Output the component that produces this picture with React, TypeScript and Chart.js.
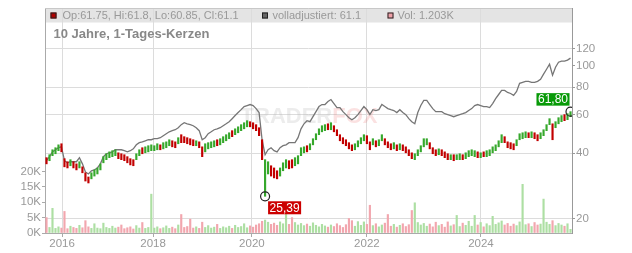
import React, { useEffect, useRef } from 'react';
import { Chart, registerables } from 'chart.js';
Chart.register(...registerables);

const FONT = '"Liberation Sans", Arial, Helvetica, sans-serif';

// Year tick positions (sample index) and labels
const yearPos = [5.2, 35.6, 68.6, 107.0, 145.1];
const yearLabels = ['2016', '2018', '2020', '2022', '2024'];
const priceTicks = [20, 40, 60, 80, 100, 120];
const volTicks = [0, 5, 10, 15, 20];

// Candle highs / lows (price)
const hi = [
  38.1, 39.3, 41.4, 42.3, 43.6, 44.1, 37.7, 36.5, 37.3, 36.5,
  35.7, 36.5, 34.6, 32.5, 31.1, 32.5, 33.5, 34.2, 35.7, 38.5,
  39.7, 40.5, 41.0, 41.4, 40.1, 39.7, 39.3, 38.5, 37.7, 37.3,
  39.7, 41.4, 42.3, 42.7, 43.2, 43.6, 43.2, 44.1, 43.6, 44.6,
  45.0, 46.0, 45.5, 45.0, 47.0, 48.5, 47.5, 47.0, 46.5, 46.0,
  45.5, 45.0, 42.7, 44.1, 44.6, 45.0, 45.5, 46.0, 46.5, 47.5,
  48.5, 49.5, 50.6, 51.6, 52.7, 53.9, 55.0, 56.2, 55.6, 55.0,
  53.9, 52.2, 46.0, 37.3, 36.5, 35.0, 34.2, 33.2, 34.2, 36.1,
  37.3, 36.9, 37.3, 38.1, 38.9, 42.3, 42.7, 43.2, 44.1, 46.5,
  49.0, 51.6, 53.3, 53.9, 54.4, 55.0, 53.3, 51.1, 48.5, 47.0,
  46.0, 44.6, 43.6, 44.1, 45.5, 47.0, 48.5, 48.0, 45.0, 46.5,
  45.5, 46.0, 48.5, 46.5, 45.0, 44.1, 44.6, 43.6, 44.1, 43.6,
  42.7, 41.4, 40.1, 39.7, 41.4, 43.2, 46.5, 46.5, 44.6, 42.3,
  41.4, 41.8, 41.4, 40.5, 39.7, 39.3, 39.3, 39.3, 39.7, 39.3,
  40.1, 41.0, 41.4, 41.0, 40.5, 40.1, 40.5, 41.0, 41.4, 42.7,
  43.6, 45.5, 48.5, 47.5, 45.0, 44.6, 44.1, 46.0, 49.0, 49.5,
  50.0, 49.5, 50.0, 49.5, 48.5, 49.5, 51.1, 53.9, 57.4, 54.4,
  55.6, 58.0, 59.3, 59.9, 60.5, 61.8,
];
const lo = [
  35.7, 36.9, 38.9, 39.7, 41.0, 40.5, 34.6, 34.2, 35.0, 34.2,
  33.5, 34.2, 32.5, 29.8, 29.2, 30.5, 31.4, 32.1, 33.5, 36.1,
  37.3, 38.1, 38.5, 38.9, 37.7, 37.3, 36.9, 36.1, 35.3, 35.0,
  37.3, 38.9, 39.7, 40.1, 40.5, 41.0, 41.0, 41.4, 41.4, 41.8,
  42.3, 43.2, 42.7, 42.3, 44.1, 44.6, 44.6, 44.1, 43.6, 43.2,
  43.2, 42.3, 38.5, 40.5, 41.8, 42.3, 42.7, 43.2, 43.6, 44.6,
  45.5, 46.5, 47.5, 48.5, 49.5, 50.6, 51.6, 52.7, 52.7, 51.6,
  50.6, 48.0, 37.3, 25.39, 32.1, 31.4, 30.8, 30.5, 31.4, 33.2,
  34.2, 33.9, 34.2, 35.0, 35.7, 38.9, 40.1, 40.5, 41.4, 43.6,
  46.0, 48.5, 50.0, 50.6, 51.1, 51.1, 50.0, 48.0, 45.5, 44.1,
  43.2, 41.8, 41.0, 41.4, 42.7, 44.1, 45.5, 44.1, 41.4, 43.6,
  42.7, 43.2, 45.5, 43.6, 42.3, 41.4, 41.8, 41.0, 41.4, 41.0,
  40.1, 38.9, 37.7, 37.3, 38.9, 40.5, 42.7, 43.6, 41.8, 39.7,
  38.9, 39.3, 38.9, 38.1, 37.3, 37.3, 36.9, 37.3, 37.3, 37.3,
  37.7, 38.5, 38.9, 38.5, 38.1, 38.1, 38.5, 38.5, 38.9, 40.1,
  41.0, 42.7, 44.6, 44.6, 42.3, 41.8, 41.4, 43.2, 46.0, 46.5,
  47.0, 47.0, 47.0, 46.5, 45.5, 46.5, 48.0, 50.6, 53.9, 46.0,
  52.2, 54.4, 55.6, 56.2, 56.8, 58.6,
];
// u = rising candle (green), d = falling candle (red)
const dir =
  'duuuudddud' + 'duddduuuuu' + 'uuuudddddd' + 'uuduuuuudu' + 'uudduddddd' +
  'udduuuuduu' + 'uuduuuuudd' + 'ddduuddduu' + 'udduuuuduu' + 'uuuududddd' +
  'ddduuuuddu' + 'duudddudud' + 'ddduuuuudd' + 'duddduduud' + 'uuuududuuu' +
  'uuudddduuu' + 'ududduuuud' + 'uuuduu';

// Fully adjusted (total return) line
const adj = [
  36.9, 38.5, 40.5, 41.4, 42.3, 42.7, 36.9, 36.1, 36.5, 36.5,
  36.5, 38.1, 35.7, 32.8, 32.1, 33.2, 33.5, 34.2, 35.7, 38.5,
  39.7, 40.1, 40.5, 41.4, 41.4, 41.4, 41.0, 40.5, 41.0, 41.8,
  43.6, 44.6, 45.0, 45.5, 46.0, 46.0, 46.5, 46.5, 47.0, 48.0,
  49.0, 50.0, 50.6, 51.1, 52.2, 53.9, 55.0, 54.4, 53.9, 53.3,
  52.2, 50.6, 46.0, 47.0, 49.0, 50.0, 51.1, 51.6, 52.2, 53.3,
  54.4, 55.6, 57.4, 59.3, 61.2, 63.1, 65.2, 65.9, 66.6, 65.9,
  63.8, 61.2, 46.0, 39.3, 41.4, 42.3, 41.0, 40.5, 42.3, 43.2,
  43.6, 44.6, 44.6, 44.6, 47.0, 51.6, 54.4, 56.2, 55.6, 58.6,
  61.8, 65.2, 66.6, 66.6, 68.7, 70.2, 67.3, 64.5, 64.5, 61.8,
  59.9, 58.0, 56.8, 58.0, 59.9, 62.5, 65.2, 63.1, 59.9, 63.1,
  62.5, 63.1, 66.6, 65.2, 63.8, 63.1, 62.5, 61.2, 63.1, 61.2,
  59.9, 57.4, 55.6, 54.4, 61.2, 65.9, 69.5, 69.5, 66.6, 63.8,
  61.8, 61.8, 61.8, 60.5, 59.9, 59.3, 58.6, 59.3, 59.9, 60.5,
  61.2, 62.5, 63.8, 65.9, 66.6, 65.9, 65.2, 65.2, 64.5, 67.3,
  70.9, 74.0, 77.3, 77.3, 75.6, 74.8, 73.3, 76.4, 83.2, 84.1,
  85.0, 85.0, 84.1, 84.1, 85.0, 86.9, 91.6, 96.5, 101.7, 90.6,
  98.6, 103.9, 105.1, 105.1, 106.2, 108.5,
];

// Volume in thousands
const vol = [
  5.0, 1.8, 8.0, 1.5, 2.0, 1.6, 7.0, 1.4, 2.2, 1.8,
  1.5, 2.5, 1.7, 4.0, 2.0, 1.5, 3.0, 1.6, 1.4, 3.2,
  1.8, 1.5, 2.2, 1.6, 1.9, 2.6, 1.4, 1.7, 2.0, 1.3,
  2.4, 1.6, 3.4, 1.5, 1.8, 12.6, 1.6, 2.0, 1.4, 1.7,
  2.3, 1.5, 1.9, 1.4, 2.6, 6.0, 1.8, 2.1, 4.5, 1.6,
  2.0, 1.5, 3.5, 1.8, 2.4, 1.6, 1.9, 2.8, 1.5, 2.0,
  1.7, 2.2, 1.5, 2.5, 1.8, 2.1, 3.0, 1.7, 2.3, 1.9,
  2.6, 3.0, 3.8, 4.2, 3.5, 2.8, 3.2, 2.5, 3.6, 3.0,
  6.4, 2.8, 5.0, 3.4, 2.6, 3.1, 2.4, 2.9, 2.2, 3.3,
  2.5, 2.0, 2.8, 2.3, 1.9, 2.6, 2.1, 3.0, 2.4, 1.8,
  2.7, 4.7, 4.0, 2.2, 3.7, 2.5, 3.6, 2.8, 9.0, 2.4,
  3.0, 2.0, 2.6, 3.2, 6.0, 2.2, 2.8, 1.9, 2.5, 3.0,
  2.1, 2.7, 7.3, 9.8, 3.4, 2.6, 3.1, 2.2, 2.9, 2.0,
  3.5, 2.4, 2.8, 1.9, 3.6, 2.3, 2.7, 5.7, 2.1, 3.2,
  2.5, 3.8, 2.2, 5.7, 2.6, 3.4, 2.0, 3.0, 2.4, 5.4,
  2.8, 3.3, 3.9, 2.6, 3.1, 2.2, 2.9, 2.4, 3.6, 15.8,
  2.7, 3.0, 2.1, 3.4, 2.6, 2.9, 11.0, 3.5, 2.8, 4.0,
  2.4, 3.1, 2.6, 2.2, 3.0, 1.2,
];

const lowMark = { i: 73, v: 25.39, label: '25,39' };
const lastMark = { i: 175, v: 61.8, label: '61,80' };
const legendOHLC = 'Op:61.75, Hi:61.8, Lo:60.85, Cl:61.1';
const legendAdj = 'volladjustiert: 61.1';
const legendVol = 'Vol: 1.203K';
const titleText = '10 Jahre, 1-Tages-Kerzen';

const RED = '#c20000';
const GREEN = '#36a82c';
const VOL_RED = '#f2a6ae';
const VOL_GREEN = '#addfa3';

const overlayPlugin = {
  id: 'overlay',
  beforeDraw(chart: any) {
    const { ctx, chartArea: a } = chart;
    ctx.save();
    ctx.fillStyle = '#e4e4e4';
    ctx.fillRect(a.left, a.top, a.right - a.left, 14.5);
    ctx.restore();
  },
  beforeDatasetsDraw(chart: any) {
    const { ctx } = chart;
    ctx.save();
    ctx.font = 'bold 22px ' + FONT;
    ctx.textBaseline = 'middle';
    const w1 = ctx.measureText('TRADER').width;
    const w2 = ctx.measureText('FOX').width;
    const x0 = 309 - (w1 + w2) / 2;
    ctx.fillStyle = 'rgba(185,185,185,0.28)';
    ctx.fillText('TRADER', x0, 117);
    ctx.fillStyle = 'rgba(235,120,120,0.22)';
    ctx.fillText('FOX', x0 + w1, 117);
    ctx.restore();
  },
  afterDraw(chart: any) {
    const { ctx, chartArea: a } = chart;
    ctx.save();
    // top frame line
    ctx.strokeStyle = '#c8c8c8';
    ctx.lineWidth = 1;
    ctx.beginPath();
    ctx.moveTo(a.left, a.top + 0.5);
    ctx.lineTo(a.right, a.top + 0.5);
    ctx.stroke();

    // legend row
    const sq = (x: number, color: string) => {
      ctx.fillStyle = color;
      ctx.fillRect(x, 12.5, 6, 6);
      ctx.strokeStyle = '#222';
      ctx.lineWidth = 1;
      ctx.strokeRect(x + 0.5, 13, 5, 5);
    };
    ctx.font = '11px ' + FONT;
    ctx.textBaseline = 'middle';
    sq(50.5, '#b00000');
    ctx.fillStyle = '#999';
    ctx.fillText(legendOHLC, 62.5, 16);
    sq(262, '#666');
    ctx.fillStyle = '#999';
    ctx.fillText(legendAdj, 272.5, 16);
    sq(387.5, '#f0a0a8');
    ctx.fillStyle = '#999';
    ctx.fillText(legendVol, 397.5, 16);

    // title
    ctx.font = 'bold 13px ' + FONT;
    ctx.fillStyle = '#888';
    ctx.fillText(titleText, 53.5, 34);

    // value labels
    const xs = chart.scales.x;
    const ys = chart.scales.yP;
    ctx.font = '12px ' + FONT;
    ctx.textAlign = 'center';
    {
      const px = xs.getPixelForValue(lowMark.i);
      const py = ys.getPixelForValue(lowMark.v);
      const w = ctx.measureText(lowMark.label).width + 3;
      ctx.fillStyle = '#cc0000';
      ctx.fillRect(px + 3, py + 5, w, 13);
      ctx.fillStyle = '#fff';
      ctx.fillText(lowMark.label, px + 3 + w / 2, py + 12);
    }
    {
      const px = xs.getPixelForValue(lastMark.i);
      const py = ys.getPixelForValue(lastMark.v);
      const w = ctx.measureText(lastMark.label).width + 3;
      ctx.fillStyle = '#089a08';
      ctx.fillRect(px - 1 - w, py - 18.5, w, 12.5);
      ctx.fillStyle = '#fff';
      ctx.fillText(lastMark.label, px - 1 - w / 2, py - 12);
    }
    ctx.restore();
  },
};

export default function App() {
  const ref = useRef<HTMLCanvasElement | null>(null);

  useEffect(() => {
    if (!ref.current) return;
    Chart.defaults.font.family = FONT;
    const up = dir.split('').map((c) => c === 'u');
    const chart = new Chart(ref.current, {
      type: 'bar',
      data: {
        datasets: [
          {
            type: 'line',
            label: 'marks',
            data: [
              { x: lowMark.i, y: lowMark.v },
              { x: lastMark.i, y: lastMark.v },
            ],
            yAxisID: 'yP',
            showLine: false,
            pointRadius: 4.5,
            pointBorderColor: '#222',
            pointBorderWidth: 1.2,
            pointBackgroundColor: 'rgba(0,0,0,0)',
            order: 0,
          } as any,
          {
            type: 'bar',
            label: 'candles',
            data: lo.map((l, i) => ({ x: i, y: [l, hi[i]] })) as any,
            yAxisID: 'yP',
            backgroundColor: up.map((u) => (u ? GREEN : RED)),
            barThickness: 1.5,
            grouped: false,
            order: 1,
          } as any,
          {
            type: 'line',
            label: 'adj',
            data: adj.map((v, i) => ({ x: i, y: v })),
            yAxisID: 'yP',
            borderColor: '#767676',
            borderWidth: 1.3,
            pointRadius: 0,
            tension: 0,
            order: 2,
          } as any,
          {
            type: 'bar',
            label: 'vol',
            data: vol.map((v, i) => ({ x: i, y: v })),
            yAxisID: 'yV',
            backgroundColor: up.map((u) => (u ? VOL_GREEN : VOL_RED)),
            barThickness: 1.5,
            grouped: false,
            order: 3,
          } as any,
        ],
      },
      options: {
        animation: false,
        responsive: false,
        maintainAspectRatio: false,
        layout: { padding: { top: 8, left: 0, right: 0, bottom: 0 } },
        plugins: { legend: { display: false }, tooltip: { enabled: false } },
        scales: {
          x: {
            type: 'linear',
            min: -0.5,
            max: 175.5,
            offset: false,
            afterFit: (s: any) => { s.height = 20; },
            afterBuildTicks: (s: any) => { s.ticks = yearPos.map((v) => ({ value: v })); },
            grid: { color: '#dcdcdc', offset: false, drawTicks: true, tickLength: 4, tickColor: '#aaa' },
            border: { color: '#aaa' },
            ticks: {
              autoSkip: false,
              maxRotation: 0,
              padding: 0,
              color: '#999',
              font: { size: 11.5, family: FONT },
              callback: (_v: any, i: number) => yearLabels[i],
            },
          },
          yV: {
            type: 'linear',
            position: 'left',
            min: 0,
            max: 73,
            afterFit: (s: any) => { s.width = 45; },
            afterBuildTicks: (s: any) => { s.ticks = volTicks.map((v) => ({ value: v })); },
            grid: { drawOnChartArea: false, drawTicks: true, tickLength: 3, color: '#aaa' },
            border: { color: '#aaa' },
            ticks: {
              padding: 1,
              color: '#999',
              font: { size: 11.5, family: FONT },
              callback: (v: any) => v + 'K',
            },
          },
          yP: {
            type: 'logarithmic',
            position: 'right',
            min: 17.26,
            max: 183.7,
            afterFit: (s: any) => { s.width = 60; },
            afterBuildTicks: (s: any) => { s.ticks = priceTicks.map((v) => ({ value: v })); },
            grid: {
              color: (c: any) => (c.tick && c.tick.value === 100 ? 'rgba(0,0,0,0)' : '#dcdcdc'),
              drawTicks: true,
              tickLength: 3,
              tickColor: '#999',
            },
            border: { color: '#999' },
            ticks: {
              padding: 1,
              color: '#999',
              font: { size: 11.5, family: FONT },
              callback: (v: any) => String(v),
            },
          },
        },
      } as any,
      plugins: [overlayPlugin],
    });
    return () => chart.destroy();
  }, []);

  return (
    <div style={{ position: 'absolute', left: 0, top: 0, width: 632, height: 253, background: '#fff' }}>
      <canvas ref={ref} width={632} height={253} style={{ display: 'block', width: 632, height: 253 }} />
    </div>
  );
}
